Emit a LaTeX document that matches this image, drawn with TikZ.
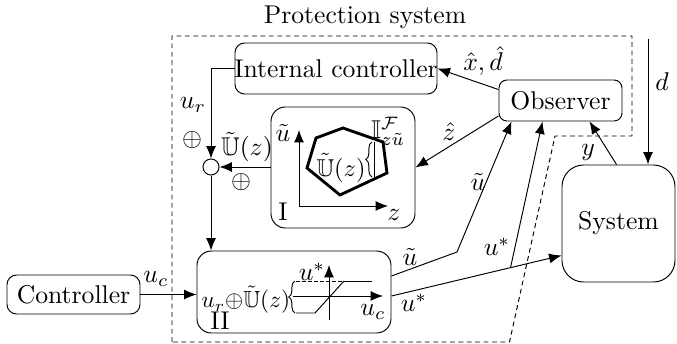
\documentclass[tikz,border=0pt]{standalone}
\usepackage{amsmath,amssymb}
\usetikzlibrary{arrows.meta,calc,fit,decorations.pathreplacing}
\begin{document}
\begin{tikzpicture}[x=0.417pt,y=-0.417pt,
 box/.style={draw,rounded corners=4pt,inner sep=0pt},
 arr/.style={-{Latex[length=5.2pt,width=4.2pt]}},
 bnd/.style={dash pattern=on 2pt off 1.5pt},
 lbl/.style={inner sep=0pt,scale=1.07},
 brc/.style={decorate,decoration={brace,amplitude=2.6pt}}]
\useasboundingbox (0,0) rectangle (677,343);
% boundary
\node[lbl] (title) at (365,17) {Protection system};
\draw[bnd] (172,342) -- (172,36) -- (632,36) -- (632,136) -- (555,136) -- (509.5,342) -- cycle;
% boxes
\node[box, fit={(235,43)(437,94)}] (ic) {};
\node[box, rounded corners=3.3pt, fit={(499,80)(622,121)}] (obs) {};
\node[box, rounded corners=6pt, fit={(271,107)(415,228)}] (Ib) {};
\node[box, rounded corners=6pt, fit={(197,251)(391,333)}] (IIb) {};
\node[box, rounded corners=9pt, fit={(562,165)(675,282)}] (sys) {};
\node[box, fit={(7,275)(140,314)}] (ctrl) {};
\node[lbl] (ict) at (ic) {Internal controller};
\node[lbl] (obst) at (obs) {Observer};
\node[lbl] (syst) at (sys) {System};
\node[lbl] (ctrlt) at (ctrl) {Controller};
\node[draw,circle,minimum size=6.7pt,inner sep=0pt] (sum) at (211,167) {};
% connectors
\draw[arr] (ic.west) -| (sum.north);
\draw[arr] (Ib.west |- sum) -- (sum.east);
\draw[arr] (sum.south) -- (sum |- IIb.north);
\draw[arr] (ctrl.east) -- (ctrl.east -| IIb.west);
\draw[arr] (obs.170) -- (ic.east);
\draw[arr] (obs.194) -- (Ib.east);
\coordinate (k) at (457,252);
\draw[arr] ($(IIb.east)+(0,-16)$) -- (k) -- ($(obs.south west)+(13,0)$);
\draw[arr] ($(IIb.east)+(0,4)$) -- coordinate[pos=0.7] (us) ($(sys.south west)+(0,-27)$);
\draw[arr] (us) -- ($(obs.south west)+(44,0)$);
\coordinate (dt) at (648,39);
\draw[arr] (dt) -- (dt |- sys.north);
\draw[arr] ($(sys.north west)+(55,0)$) -- ($(obs.south west)+(91,0)$);
% labels
\node[lbl] (l1) at (193,105) {$u_r$};
\node[lbl] (l2) at (192,140) {$\oplus$};
\node[lbl] (l3) at (247,147) {$\tilde{\mathbb{U}}(z)$};
\node[lbl] (l4) at (241,182) {$\oplus$};
\node[lbl] (l5) at (483,61) {$\hat{x},\hat{d}$};
\node[lbl] (l6) at (449,132) {$\hat{z}$};
\node[lbl] (l7) at (478,182) {$\tilde{u}$};
\node[lbl] (l8) at (410,257) {$\tilde{u}$};
\node[lbl] (l9) at (497,247) {$u^*$};
\node[lbl] (l10) at (414,303) {$u^*$};
\node[lbl] (l11) at (588,152) {$y$};
\node[lbl] (l12) at (662,82) {$d$};
\node[lbl] (l13) at (156,279) {$u_c$};
% inside I
\coordinate (Io) at (299,206);
\draw[arr] (Io) -- (299,130);
\draw[arr] (Io) -- (388,206);
\node[lbl] (i1) at (283,133) {$\tilde{u}$};
\node[lbl] (i2) at (283,212) {I};
\node[lbl] (i3) at (394,215) {$z$};
\node[lbl] (i4) at (388,131) {$\mathbb{I}^{\mathcal{F}}_{z\tilde{u}}$};
\draw[line width=1.2pt, line join=miter] (316,138) -- (343,128) -- (383,142) -- (387,173) -- (340,195) -- (307,168) -- cycle;
\node[lbl,scale=0.95] (i5) at (341,168) {$\tilde{\mathbb{U}}(z)$};
\draw[brc] (372,177) -- (372,142);
\draw (374,142) -- (374,177);
% inside II
\coordinate (IIo) at (329,296);
\draw[arr] (329,320) -- (329,265);
\draw[arr] (293,296) -- (383,296);
\draw[dash pattern=on 1.5pt off 1pt] (296,281) -- (344,281);
\draw (344,281) -- (372,281);
\draw (296,313) -- (315,313) -- (344,281);
\draw[brc] (295,313) -- (295,281);
\node[lbl,scale=0.91,anchor=west] (j1) at (201,300) {$u_r{\oplus}\tilde{\mathbb{U}}(z)$};
\node[lbl] (j2) at (220,321) {II};
\node[lbl] (j3) at (312,272) {$u^*$};
\node[lbl] (j4) at (373,312) {$u_c$};
\end{tikzpicture}
\end{document}
